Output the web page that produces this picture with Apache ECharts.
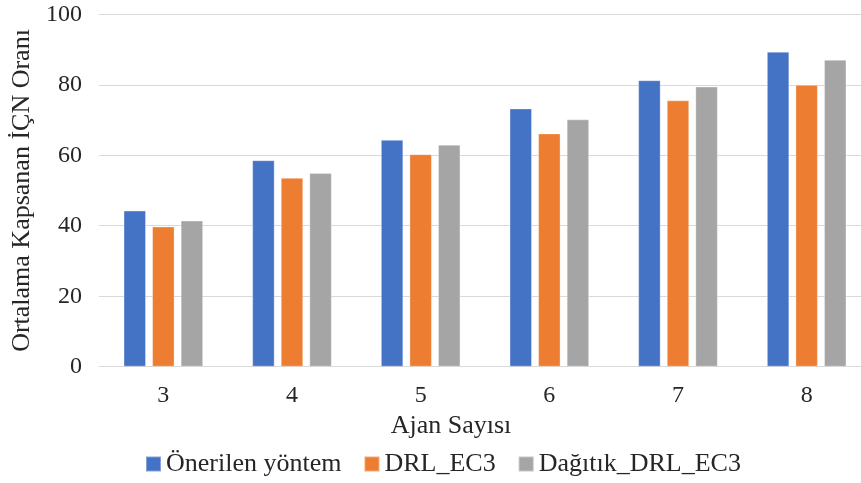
<!DOCTYPE html>
<html>
<head>
<meta charset="utf-8">
<script src="https://cdn.jsdelivr.net/npm/echarts@6/dist/echarts.min.js"></script>
<style>
  html, body { margin: 0; padding: 0; background: #fff; overflow: hidden; }
  /* the canvas runs slightly past the right edge of the window */
  #chart { width: 871px; height: 483px; }
</style>
</head>
<body>
<div id="chart"></div>
<script>
// Agent counts on the x axis
const categories = ['3', '4', '5', '6', '7', '8'];

// Average covered rate per method
const onerilenYontem = [44.3, 58.6, 64.4, 73.3, 81.3, 89.4];
const drlEc3 = [39.8, 53.6, 60.3, 66.2, 75.6, 80.0];
const dagitikDrlEc3 = [41.5, 55.0, 63.0, 70.2, 79.5, 87.1];

const seriesNames = ['Önerilen yöntem', 'DRL_EC3', 'Dağıtık_DRL_EC3'];
const seriesColors = ['#4472C4', '#ED7D31', '#A5A5A5'];

const FONT = '"Liberation Serif", "Times New Roman", serif';
const TEXT = '#262626';

const chart = echarts.init(document.getElementById('chart'), null, { renderer: 'canvas' });

const makeBar = (name, data, color) => ({
  name,
  type: 'bar',
  data,
  barWidth: 22.5,
  barGap: '27%',
  itemStyle: { color, borderColor: 'rgba(255,255,255,0.35)', borderWidth: 1 }
});

chart.setOption({
  animation: false,
  color: seriesColors,
  textStyle: { fontFamily: FONT, color: TEXT },
  grid: { left: 99, right: 0, top: 14.3, bottom: 116.3, containLabel: false },
  legend: {
    data: seriesNames,
    left: 145,
    top: 451,
    padding: 0,
    itemWidth: 15,
    itemHeight: 15,
    itemGap: 22,
    icon: 'rect',
    textStyle: { fontFamily: FONT, fontSize: 26, color: TEXT }
  },
  xAxis: {
    type: 'category',
    data: categories,
    name: 'Ajan Sayısı',
    nameLocation: 'middle',
    nameGap: 46,
    nameTextStyle: { fontFamily: FONT, fontSize: 26, color: TEXT, padding: [0, 68, 0, 0] },
    axisLine: { show: true, lineStyle: { color: '#D9D9D9', width: 1 } },
    axisTick: { show: false },
    axisLabel: { fontFamily: FONT, fontSize: 24, color: TEXT, margin: 17 }
  },
  yAxis: {
    type: 'value',
    min: 0,
    max: 100,
    interval: 20,
    name: 'Ortalama Kapsanan İÇN Oranı',
    nameLocation: 'middle',
    nameGap: 56,
    nameTextStyle: { fontFamily: FONT, fontSize: 26, color: TEXT },
    axisLine: { show: false },
    axisTick: { show: false },
    axisLabel: { fontFamily: FONT, fontSize: 24, color: TEXT, margin: 17 },
    splitLine: { show: true, lineStyle: { color: '#D9D9D9', width: 1 } }
  },
  series: [
    makeBar(seriesNames[0], onerilenYontem, seriesColors[0]),
    makeBar(seriesNames[1], drlEc3, seriesColors[1]),
    makeBar(seriesNames[2], dagitikDrlEc3, seriesColors[2])
  ]
});
</script>
</body>
</html>
